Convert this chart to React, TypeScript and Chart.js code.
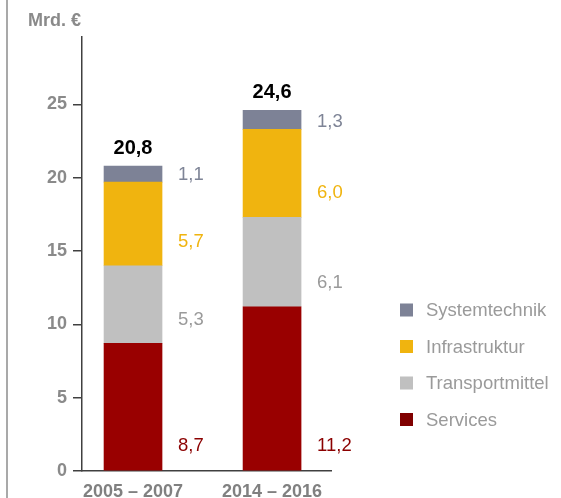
import React, { useEffect, useRef } from 'react';
import { Chart, registerables } from 'chart.js';

Chart.register(...registerables);

// ---- data ----
const periods = ['2005 – 2007', '2014 – 2016'];
const seriesNames = ['Services', 'Transportmittel', 'Infrastruktur', 'Systemtechnik'];
const services = [8.7, 11.2];
const transportmittel = [5.3, 6.1];
const infrastruktur = [5.7, 6.0];
const systemtechnik = [1.1, 1.3];
const yTicks = [0, 5, 10, 15, 20, 25];
const unitLabel = 'Mrd. €';

// ---- styles ----
const barColors = ['#990000', '#c0c0c0', '#f0b40f', '#7d8296'];
const legendColors = ['#800000', '#c0c0c0', '#f0b40f', '#7d8296'];
const labelColors = ['#8b0000', '#9a9a9a', '#f0b40f', '#7e8496'];
const FONT = "'Liberation Sans', Arial, Helvetica, sans-serif";
const AXIS_COLOR = '#404040';
const TEXT_GRAY = '#8a8a8a';

const fmt = (v: number) => v.toFixed(1).replace('.', ',');

const overlayPlugin = {
  id: 'overlay',
  beforeDraw(chart: any) {
    const ctx = chart.ctx;
    ctx.save();
    ctx.fillStyle = '#a9a9a9';
    ctx.fillRect(6, 0, 2, chart.height);
    ctx.restore();
  },
  afterDatasetsDraw(chart: any) {
    const ctx = chart.ctx;
    ctx.save();
    const n = chart.data.datasets.length;
    // segment value labels
    for (let d = 0; d < n; d++) {
      const meta = chart.getDatasetMeta(d);
      const ds = chart.data.datasets[d];
      meta.data.forEach((el: any, i: number) => {
        const right = el.x + el.width / 2;
        const bottom = el.base;
        const y = d === n - 1 ? bottom - 7 : bottom - 24;
        ctx.font = `18.5px ${FONT}`;
        ctx.fillStyle = labelColors[d];
        ctx.textAlign = 'left';
        ctx.textBaseline = 'middle';
        ctx.fillText(fmt(ds.data[i].y), right + 16, y);
      });
    }
    // totals
    const topMeta = chart.getDatasetMeta(n - 1);
    topMeta.data.forEach((el: any, i: number) => {
      let total = 0;
      chart.data.datasets.forEach((ds: any) => (total += ds.data[i].y));
      ctx.font = `bold 20px ${FONT}`;
      ctx.fillStyle = '#000000';
      ctx.textAlign = 'center';
      ctx.textBaseline = 'middle';
      ctx.fillText(fmt(total), el.x, el.y - 18);
    });
    // unit label
    ctx.font = `bold 18px ${FONT}`;
    ctx.fillStyle = TEXT_GRAY;
    ctx.textAlign = 'left';
    ctx.textBaseline = 'middle';
    ctx.fillText(unitLabel, 28, 21);
    // legend (reverse order)
    const startY = 310;
    const step = 36.5;
    for (let k = 0; k < n; k++) {
      const d = n - 1 - k;
      const cy = startY + k * step;
      ctx.fillStyle = legendColors[d];
      ctx.fillRect(400, cy - 6.5, 13, 13);
      ctx.font = `18.5px ${FONT}`;
      ctx.fillStyle = '#9a9a9a';
      ctx.textAlign = 'left';
      ctx.textBaseline = 'middle';
      ctx.fillText(seriesNames[d], 426, cy + 1);
    }
    ctx.restore();
  },
};

export default function App() {
  const canvasRef = useRef<HTMLCanvasElement | null>(null);

  useEffect(() => {
    document.body.style.margin = '0';
    const canvas = canvasRef.current;
    if (!canvas) return;
    const seriesValues = [services, transportmittel, infrastruktur, systemtechnik];
    const chart = new Chart(canvas, {
      type: 'bar',
      data: {
        datasets: seriesNames.map((name, d) => ({
          label: name,
          data: seriesValues[d].map((v, i) => ({ x: i, y: v })),
          backgroundColor: barColors[d],
          borderWidth: 0,
          barThickness: 58,
        })),
      },
      options: {
        animation: false,
        responsive: true,
        maintainAspectRatio: false,
        layout: { padding: { top: 37, right: 230, bottom: 0, left: 0 } },
        plugins: {
          legend: { display: false },
          tooltip: { enabled: false },
        },
        scales: {
          x: {
            type: 'linear',
            min: -0.367,
            max: 1.424,
            offset: false,
            stacked: true,
            afterBuildTicks: (scale: any) => {
              scale.ticks = periods.map((_, i) => ({ value: i }));
            },
            afterFit: (scale: any) => {
              scale.height = 27;
            },
            grid: { display: false, drawTicks: false, offset: false },
            border: { display: true, color: AXIS_COLOR, width: 1.5 },
            ticks: {
              padding: 10,
              autoSkip: false,
              maxRotation: 0,
              color: '#808080',
              font: { family: FONT, size: 18, weight: 'bold' },
              callback: (v: any) => periods[Math.round(Number(v))] ?? '',
            },
          },
          y: {
            type: 'linear',
            min: 0,
            max: 29.6,
            stacked: true,
            afterBuildTicks: (scale: any) => {
              scale.ticks = yTicks.map((v) => ({ value: v }));
            },
            afterFit: (scale: any) => {
              scale.width = 82;
            },
            grid: {
              drawOnChartArea: false,
              drawTicks: true,
              tickLength: 9,
              color: AXIS_COLOR,
              lineWidth: 1.5,
            },
            border: { display: true, color: AXIS_COLOR, width: 1.5 },
            ticks: {
              padding: 6,
              color: TEXT_GRAY,
              font: { family: FONT, size: 18, weight: 'bold' },
              callback: (v: any) => String(v),
            },
          },
        },
      } as any,
      plugins: [overlayPlugin],
    });
    return () => chart.destroy();
  }, []);

  return (
    <div style={{ position: 'relative', width: 561, height: 498 }}>
      <canvas ref={canvasRef} />
    </div>
  );
}
